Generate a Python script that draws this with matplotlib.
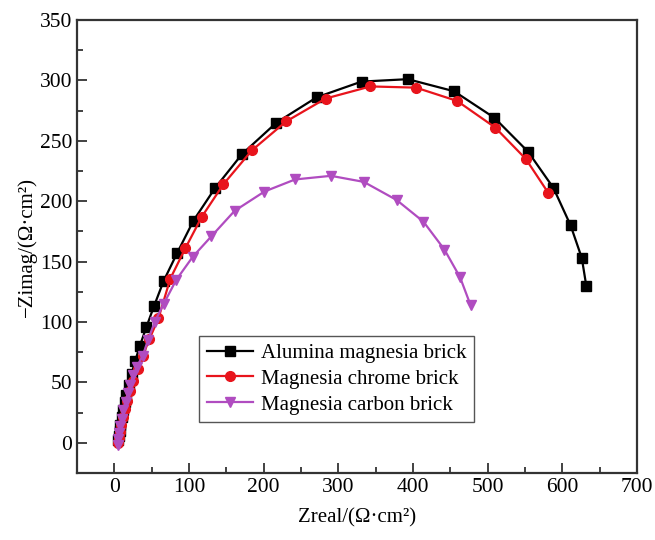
import numpy as np
import matplotlib.pyplot as plt

plt.rcParams['font.family'] = ['Liberation Serif', 'DejaVu Serif']

# Alumina magnesia brick
x_am = [5, 6, 7, 8, 10, 12, 14, 16, 19, 23, 28, 34, 43, 53, 66, 84, 106, 135,
        171, 217, 271, 331, 393, 455, 509, 554, 588, 611, 626, 632]
y_am = [2, 6, 10, 15, 21, 27, 34, 40, 48, 57, 68, 80, 96, 113, 134, 157, 184, 211,
        239, 265, 286, 299, 301, 291, 269, 241, 211, 180, 153, 130]

# Magnesia chrome brick
x_mc = [5, 6, 7, 9, 11, 14, 17, 21, 25, 31, 38, 47, 59, 75, 95, 117, 146,
        184, 230, 283, 343, 404, 459, 510, 551, 581]
y_mc = [0, 4, 9, 15, 21, 28, 35, 43, 51, 61, 72, 86, 103, 136, 161, 187, 214,
        242, 266, 285, 295, 294, 283, 261, 235, 207]

# Magnesia carbon brick
x_mg = [5, 5, 6, 8, 10, 12, 15, 18, 21, 25, 30, 38, 45, 54, 66, 83, 105, 130,
        161, 201, 242, 290, 334, 378, 414, 442, 463, 477]
y_mg = [-2, 3, 8, 14, 20, 27, 34, 41, 48, 56, 63, 72, 85, 100, 115, 135, 154, 171,
        192, 208, 218, 221, 216, 201, 183, 160, 137, 114]

fig = plt.figure(figsize=(6.55, 5.40), dpi=100)
ax = fig.add_axes([0.1176, 0.124, 0.855, 0.839])

ax.plot(x_am, y_am, '-s', color='black', lw=1.6, ms=6.5, label='Alumina magnesia brick')
ax.plot(x_mc, y_mc, '-o', color='#e8141c', lw=1.6, ms=7, label='Magnesia chrome brick')
ax.plot(x_mg, y_mg, '-v', color='#b04cc0', lw=1.6, ms=7.5, label='Magnesia carbon brick')

ax.set_xlim(-50, 700)
ax.set_ylim(-25, 350)
ax.set_xticks(np.arange(0, 701, 100))
ax.set_yticks(np.arange(0, 351, 50))
ax.set_xticks(np.arange(50, 700, 100), minor=True)
ax.set_yticks(np.arange(25, 350, 50), minor=True)
ax.tick_params(which='both', direction='in', labelsize=15.5, width=1.3, color='#333333')
ax.tick_params(which='major', length=7)
ax.tick_params(which='minor', length=4)
for s in ax.spines.values():
    s.set_linewidth(1.6)
    s.set_color('#333333')

ax.set_xlabel('Zreal/(Ω·cm²)', fontsize=15, labelpad=8)
ax.set_ylabel('−Zimag/(Ω·cm²)', fontsize=15, labelpad=2)

leg = ax.legend(loc='lower left', bbox_to_anchor=(0.2, 0.09), fontsize=15,
                fancybox=False, framealpha=1, edgecolor='#555555',
                handlelength=2.2, borderpad=0.35, labelspacing=0.3, handletextpad=0.4)
leg.get_frame().set_linewidth(1.0)

fig.savefig('out.png', dpi=100)
